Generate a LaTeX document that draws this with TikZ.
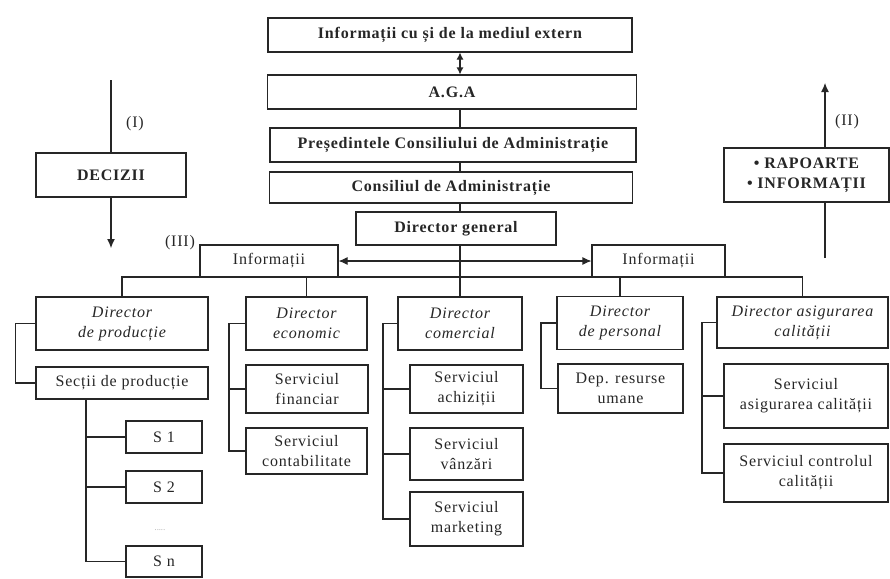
\documentclass[tikz,border=0pt]{standalone}
\usepackage{fontspec}
\setmainfont[LetterSpace=5]{Liberation Serif}
\usetikzlibrary{arrows.meta}

\begin{document}
\fontsize{16}{20}\selectfont
\begin{tikzpicture}[x=1pt,y=-1pt,line width=1.1pt,color=black!85,
  >={Latex[length=9pt,width=8pt]},
  box/.style={draw,rectangle,align=center,inner sep=1pt},
  head/.style={box,font=\bfseries},
  dir/.style={box,font=\itshape},
  lbl/.style={inner sep=0pt}]
\useasboundingbox (0,0) rectangle (890,578);

% conducere
\node[head,minimum width=364,minimum height=34] (ext) at (450,35) {Informații cu și de la mediul extern};
\node[head,minimum width=369,minimum height=34] (aga) at (452,92) {A.G.A};
\node[head,minimum width=366,minimum height=34] (pres) at (453,145) {Președintele Consiliului de Administrație};
\node[head,minimum width=363,minimum height=31] (cons) at (451,187.5) {Consiliul de Administrație};
\node[head,minimum width=200,minimum height=33] (dg) at (456,228.5) {Director general};

\coordinate (axis) at (460,0);
\draw[<->,>={Latex[length=7pt,width=7pt]}] (ext.south -| axis) -- (aga.north -| axis);
\draw (aga.south -| axis) -- (pres.north -| axis);
\draw (pres.south -| axis) -- (cons.north -| axis);
\draw (cons.south -| axis) -- (dg.north -| axis);

% (I) decizii
\node[head,minimum width=150,minimum height=44] (dec) at (111,175) {DECIZII};
\coordinate (decin) at (111,80);
\coordinate (decout) at (111,248);
\draw (decin) -- (dec.north);
\draw[->] (dec.south) -- (decout);
\node[lbl] (li) at (135,124) {(I)};

% (II) rapoarte
\node[head,minimum width=165,minimum height=54] (rap) at (806.5,175) {• RAPOARTE\\• INFORMAȚII};
\coordinate (rapin) at (825,258);
\coordinate (rapout) at (825,83);
\draw (rapin) -- (rapin |- rap.south);
\draw[->] (rapout |- rap.north) -- (rapout);
\node[lbl] (lii) at (847,122) {(II)};

% (III) informatii
\node[box,minimum width=138,minimum height=32] (infl) at (269,261) {Informații};
\node[box,minimum width=133,minimum height=32] (infr) at (658.5,261) {Informații};
\draw[<->] (infl) -- (infr);
\node[lbl] (liii) at (180,243) {(III)};

% directori
\node[dir,minimum width=172,minimum height=53] (dprod) at (122,323.5) {Director\\de producție};
\node[dir,minimum width=121,minimum height=53] (deco) at (306.5,323.5) {Director\\economic};
\node[dir,minimum width=124,minimum height=53] (dcom) at (460,323.5) {Director\\comercial};
\node[dir,minimum width=126,minimum height=53] (dpers) at (620,323) {Director\\de personal};
\node[dir,minimum width=171,minimum height=51] (dcal) at (802.5,322.5) {Director asigurarea\\calității};

\coordinate (bus) at (0,277);
\draw (dprod.north) |- (bus -| dcal.north) -- (dcal.north);
\draw (dg.south -| axis) -- (dcom.north -| axis);
\foreach \n in {deco,dpers}
  \draw (\n.north) -- (\n.north |- bus);

% productie
\node[box,minimum width=172,minimum height=32] (sectii) at (122,383) {Secții de producție};
\node[box,minimum width=76,minimum height=32] (s1) at (164,437) {S 1};
\node[box,minimum width=76,minimum height=32] (s2) at (164,487) {S 2};
\node[font=\scriptsize,text=black!50] (sdots) at (160,530) {.....};
\node[box,minimum width=76,minimum height=31] (sn) at (164,561.5) {S n};

\coordinate (ptr) at (86,0);
\draw (dprod.west) -- ++(-20,0) |- (sectii.west);
\draw (sectii.south -| ptr) |- (sn.west);
\foreach \n in {s1,s2}
  \draw (\n.west -| ptr) -- (\n.west);

% economic
\node[box,minimum width=122,minimum height=48] (sfin) at (307,389) {Serviciul\\financiar};
\node[box,minimum width=121,minimum height=46] (scont) at (306.5,451) {Serviciul\\contabilitate};

\coordinate (etr) at (229,0);
\draw (deco.west) -- (deco.west -| etr) |- (scont.west);
\draw (sfin.west -| etr) -- (sfin.west);

% comercial
\node[box,minimum width=113,minimum height=48] (sach) at (466.5,389) {Serviciul\\achiziții};
\node[box,minimum width=113,minimum height=52] (svanz) at (466.5,454) {Serviciul\\vânzări};
\node[box,minimum width=113,minimum height=54] (smark) at (466.5,519) {Serviciul\\marketing};

\coordinate (ctr) at (383,0);
\draw (dcom.west) -- (dcom.west -| ctr) |- (smark.west);
\foreach \n in {sach,svanz}
  \draw (\n.west -| ctr) -- (\n.west);

% personal
\node[box,minimum width=125,minimum height=49] (dru) at (620.5,388.5) {Dep. resurse\\umane};

\coordinate (ptr2) at (541,0);
\draw (dpers.west) -- (dpers.west -| ptr2) |- (dru.west);

% calitate
\node[box,minimum width=164,minimum height=64] (sasig) at (806,396) {Serviciul\\asigurarea calității};
\node[box,minimum width=164,minimum height=58] (sctrl) at (806,473) {Serviciul controlul\\calității};

\coordinate (qtr) at (702,0);
\draw (dcal.west) -- (dcal.west -| qtr) |- (sctrl.west);
\draw (sasig.west -| qtr) -- (sasig.west);
\end{tikzpicture}
\end{document}
